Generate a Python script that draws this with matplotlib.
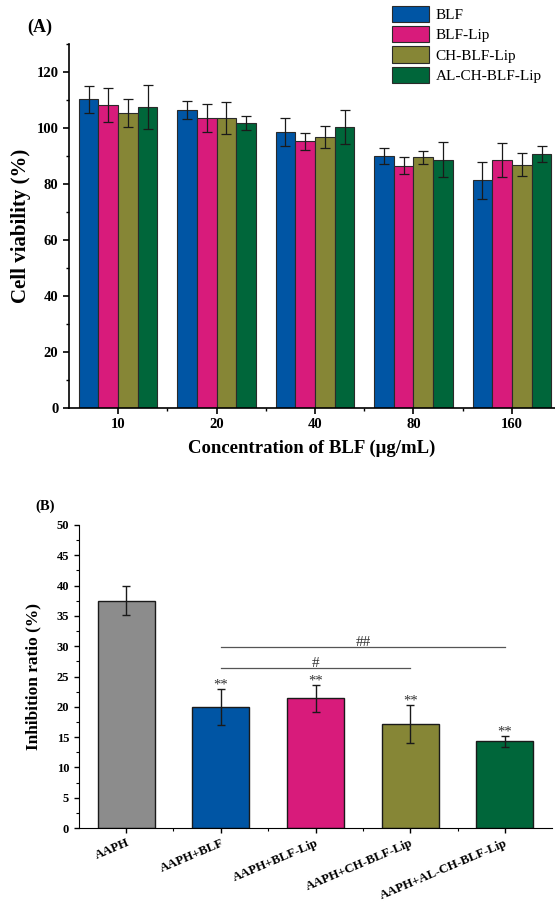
import numpy as np
import matplotlib
matplotlib.use('Agg')
import matplotlib.pyplot as plt
from matplotlib.ticker import MultipleLocator

plt.rcParams['font.family'] = ['Liberation Serif', 'DejaVu Serif']

# (A) 细胞活力数据
conc_labels = ['10', '20', '40', '80', '160']
group_names = ['BLF', 'BLF-Lip', 'CH-BLF-Lip', 'AL-CH-BLF-Lip']
viab_blf = [110.2, 106.4, 98.7, 90.0, 81.3]
viab_blf_lip = [108.2, 103.6, 95.2, 86.5, 88.6]
viab_ch = [105.5, 103.6, 96.8, 89.5, 86.8]
viab_al = [107.5, 101.7, 100.4, 88.7, 90.7]
err_blf = [4.8, 3.3, 5.0, 2.9, 6.6]
err_blf_lip = [6.0, 5.1, 2.9, 3.1, 6.2]
err_ch = [5.0, 5.6, 4.0, 2.3, 4.1]
err_al = [7.8, 2.5, 6.1, 6.2, 3.0]

# (B) 抑制率数据
inh_labels = ['AAPH', 'AAPH+BLF', 'AAPH+BLF-Lip', 'AAPH+CH-BLF-Lip', 'AAPH+AL-CH-BLF-Lip']
inh_values = [37.5, 20.0, 21.4, 17.2, 14.3]
inh_errors = [2.4, 3.0, 2.2, 3.1, 0.9]
inh_marks = ['', '**', '**', '**', '**']
# 显著性比较: (起始组, 结束组, 高度, 标记)
sig_pairs = [(1, 3, 26.4, '#'), (1, 4, 29.8, '##')]

colors = ['#0055a4', '#d81b7b', '#868636', '#00663a']
gray = '#8c8c8c'

fig = plt.figure(figsize=(5.55, 9.02), dpi=100)

# ---------- 面板 A ----------
ax1 = fig.add_axes([0.124, 0.5477, 0.876, 0.4035])
x = np.arange(len(conc_labels))
w = 0.2
series = [viab_blf, viab_blf_lip, viab_ch, viab_al]
errs = [err_blf, err_blf_lip, err_ch, err_al]
for i, (vals, e) in enumerate(zip(series, errs)):
    ax1.bar(x - 0.3 + i * w, vals, w, yerr=e, color=colors[i], edgecolor='#2a2a2a',
            linewidth=0.8, label=group_names[i],
            error_kw=dict(ecolor='#1a1a1a', elinewidth=0.9, capsize=3.6, capthick=0.9))
ax1.set_xlim(-0.5, 4.437)
ax1.set_ylim(0, 130)
ax1.set_xticks(x)
ax1.set_xticklabels(conc_labels)
ax1.set_xticks(x[:-1] + 0.5, minor=True)
ax1.yaxis.set_major_locator(MultipleLocator(20))
ax1.yaxis.set_minor_locator(MultipleLocator(10))
for s in ['top', 'right']:
    ax1.spines[s].set_visible(False)
for s in ['left', 'bottom']:
    ax1.spines[s].set_linewidth(1.2)
ax1.tick_params(which='major', direction='out', length=4, width=1.2, labelsize=10.5)
ax1.tick_params(which='minor', direction='out', length=2.5, width=1.0)
for lab in ax1.get_xticklabels() + ax1.get_yticklabels():
    lab.set_fontweight('bold')
ax1.set_ylabel('Cell viability (%)', fontsize=15, fontweight='bold', labelpad=4)
ax1.set_xlabel('Concentration of BLF (μg/mL)', fontsize=13.5, fontweight='bold', labelpad=6)
fig.text(0.05, 0.97, '(A)', fontsize=13, fontweight='bold', ha='left', va='center')
ax1.legend(loc='upper left', bbox_to_anchor=(392 / 555, 1 - 6 / 902),
           bbox_transform=fig.transFigure, frameon=False, fontsize=11,
           handlelength=2.4, handleheight=1.25, labelspacing=0.26,
           handletextpad=0.45, borderpad=0, borderaxespad=0)

# ---------- 面板 B ----------
ax2 = fig.add_axes([0.142, 0.082, 0.853, 0.336])
xb = np.arange(len(inh_labels))
bcolors = [gray] + colors
ax2.bar(xb, inh_values, 0.6, yerr=inh_errors, color=bcolors, edgecolor='#1a1a1a',
        linewidth=1.0,
        error_kw=dict(ecolor='#1a1a1a', elinewidth=1.0, capsize=3.2, capthick=1.0))
for xi, v, e, m in zip(xb, inh_values, inh_errors, inh_marks):
    if m:
        ax2.text(xi, v + e, m, ha='center', va='baseline', fontsize=10.5, color='#333333')
for a, b, h, m in sig_pairs:
    ax2.plot([a, b], [h, h], color='#555555', linewidth=0.9)
    ax2.text((a + b) / 2, h + 0.2, m, ha='center', va='baseline', fontsize=11, color='#333333')
ax2.set_xlim(-0.5, 4.5)
ax2.set_ylim(0, 50)
ax2.set_xticks(xb)
ax2.set_xticklabels(inh_labels, rotation=23, ha='right', rotation_mode='anchor')
ax2.set_xticks(xb[:-1] + 0.5, minor=True)
ax2.yaxis.set_major_locator(MultipleLocator(5))
ax2.yaxis.set_minor_locator(MultipleLocator(2.5))
for s in ['top', 'right']:
    ax2.spines[s].set_visible(False)
ax2.tick_params(which='major', direction='out', length=3.5, width=1.0, labelsize=9)
ax2.tick_params(which='minor', direction='out', length=2, width=0.8)
ax2.tick_params(axis='x', which='major', labelsize=9.2, pad=3)
for lab in ax2.get_xticklabels() + ax2.get_yticklabels():
    lab.set_fontweight('bold')
ax2.set_ylabel('Inhibition ratio (%)', fontsize=12.5, fontweight='bold', labelpad=11)
fig.text(0.063, 0.439, '(B)', fontsize=10.5, fontweight='bold', ha='left', va='center')

fig.savefig('out.png', dpi=100)
